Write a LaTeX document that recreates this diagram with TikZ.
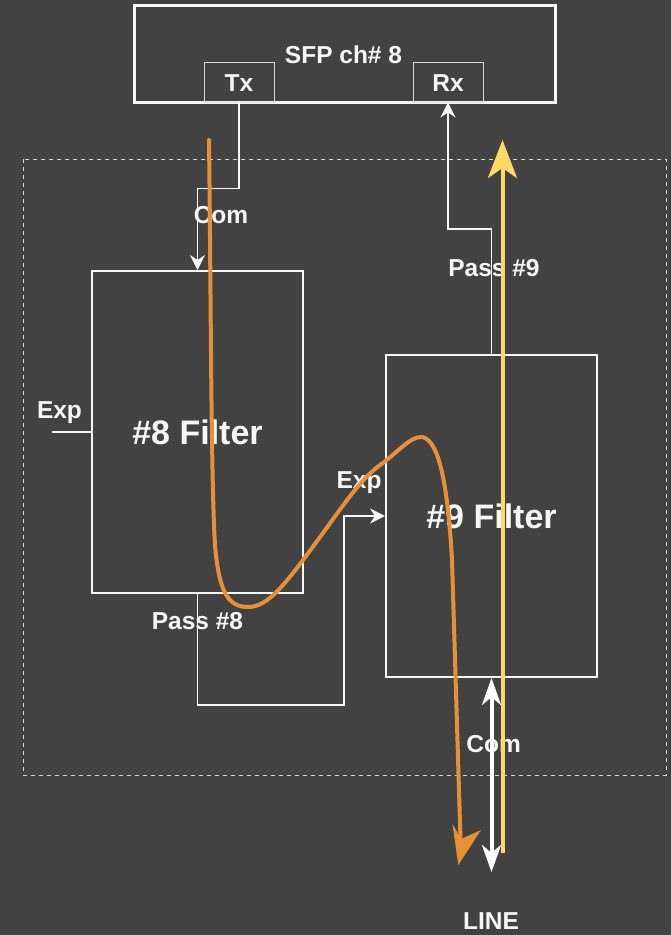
\documentclass[tikz,border=0pt]{standalone}
\usepackage{fontspec}
\setmainfont{Liberation Sans}
\usetikzlibrary{arrows.meta}
\definecolor{bg}{RGB}{66,66,66}
\definecolor{wire}{RGB}{246,246,246}
\definecolor{thinwire}{RGB}{215,215,215}
\definecolor{txpath}{RGB}{230,145,56}
\definecolor{rxpath}{RGB}{255,217,102}
\begin{document}
\begin{tikzpicture}[x=1pt,y=-1pt,
  font=\bfseries,
  lbl/.style={text=wire, inner sep=0pt, anchor=base, font=\fontsize{24.5}{28}\selectfont\bfseries},
  biglbl/.style={lbl, font=\fontsize{34}{38}\selectfont\bfseries},
  bigbox/.style={draw=wire, line width=2pt, inner sep=0pt},
  portbox/.style={draw=thinwire, line width=0.9pt, inner sep=0pt},
  conn/.style={draw=wire, line width=1.8pt, -{Stealth[length=15pt,width=15pt,inset=5pt]}},
  plain/.style={draw=wire, line width=1.8pt},
  comarrow/.style={draw=white, line width=4pt,
    {Stealth[length=27pt,width=19pt,inset=8pt]}-{Stealth[length=27pt,width=19pt,inset=8pt]}},
  rxarrow/.style={draw=rxpath, line width=4pt, -{Stealth[length=38pt,width=29pt,inset=10pt]}},
  txline/.style={draw=txpath, line width=4pt, line cap=round, line join=round}]

% background and page extent
\fill[bg] (0,0) rectangle (671,935);
\useasboundingbox (0,0) rectangle (671,935);

% dashed enclosure of the filter pair
\draw[thinwire, line width=0.8pt, dash pattern=on 4pt off 4pt] (23,159) rectangle (666,775);

% SFP module with its two ports
\node (sfp) [draw=wire, line width=3pt, minimum width=421pt, minimum height=97pt, inner sep=0pt] at (344.5,53.5) {};
\node (tx) [portbox, minimum width=70pt, minimum height=40pt] at (239,82) {};
\node (rx) [portbox, minimum width=70pt, minimum height=40pt] at (448,82) {};
\node (sfplbl) [lbl] at (343.5,63) {SFP ch\# 8};
\node (txlbl) [lbl] at (239,91) {Tx};
\node (rxlbl) [lbl] at (448,91) {Rx};

% the two filters
\node (f8) [bigbox, minimum width=211pt, minimum height=322pt] at (197.5,432) {};
\node (f9) [bigbox, minimum width=211pt, minimum height=322pt] at (491.5,516) {};
\node (f8lbl) [biglbl] at (197.5,444) {\#8 Filter};
\node (f9lbl) [biglbl] at (491.5,528) {\#9 Filter};

% port labels
\node (lcomtop) [lbl] at (221,223) {Com};
\node (lexpin)  [lbl] at (59.5,418) {Exp};
\node (lexp9)   [lbl] at (359,488) {Exp};
\node (lpass8)  [lbl] at (197.5,629) {Pass \#8};
\node (lpass9)  [lbl] at (494,276.7) {Pass \#9};
\node (lcombot) [lbl] at (493.7,752.7) {Com};
\node (lline)   [lbl] at (491,929.3) {LINE};

% wiring between module and filters
\coordinate (expin) at (52,432);
\coordinate (p8turn) at (344,705);
\coordinate (linept) at (491.5,872);
\draw[conn] (tx.south) -- ++(0,86) -| (f8.north);
\draw[plain] (expin) -- (f8.west);
\draw[conn] (f8.south) |- (p8turn) |- (f9.west);
\draw[conn] (f9.north) -- ++(0,-125) -| (rx.south);
\draw[comarrow] (f9.south) -- (linept);

% receive path (yellow)
\coordinate (rxbot) at (502.5,853);
\coordinate (rxtop) at (502.5,140);
\draw[rxarrow] (rxbot) -- (rxtop);

% transmit path (orange) with its hand-drawn head
\coordinate (txstart) at (209,140);
\coordinate (txend) at (460.5,840);
\draw[txline] (txstart)
  .. controls (211,300) and (211,480) .. (215,545)
  .. controls (219,592) and (228,607) .. (248,607)
  .. controls (268,607) and (285,585) .. (320,537)
  .. controls (345,503) and (360,480) .. (380,465)
  .. controls (395,455) and (410,436) .. (422,437)
  .. controls (440,440) and (448,490) .. (452,560)
  -- (txend);
\fill[txpath] (458.3,865) -- (452.5,824) -- (461,839) -- (481,830) -- cycle;
\end{tikzpicture}
\end{document}
